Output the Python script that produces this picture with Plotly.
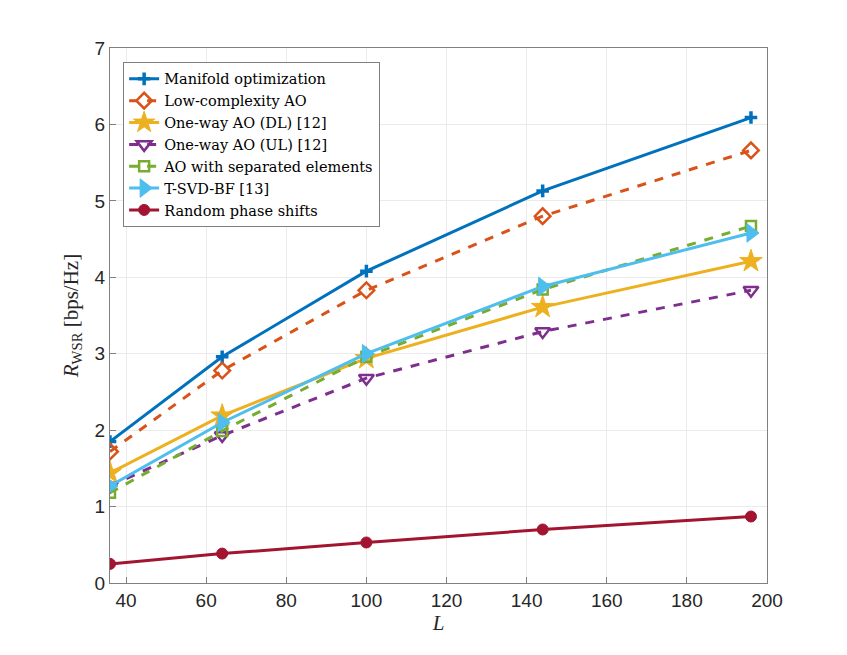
import plotly.graph_objects as go

L = [36, 64, 100, 144, 196]

manifold = [1.85, 2.96, 4.08, 5.13, 6.09]
low_complexity = [1.72, 2.78, 3.83, 4.80, 5.66]
oneway_dl = [1.44, 2.19, 2.94, 3.61, 4.21]
oneway_ul = [1.27, 1.93, 2.68, 3.29, 3.83]
separated = [1.18, 1.99, 2.96, 3.84, 4.67]
tsvd = [1.27, 2.10, 3.00, 3.88, 4.58]
random_phase = [0.25, 0.385, 0.53, 0.70, 0.87]

names = ['Manifold optimization', 'Low-complexity AO', 'One-way AO (DL) [12]',
         'One-way AO (UL) [12]', 'AO with separated elements', 'T-SVD-BF [13]',
         'Random phase shifts']

fig = go.Figure()

series = [
    (manifold, '#0072BD', 'solid', 'cross-thin', 9, 3.5),
    (low_complexity, '#D95319', 'dash', 'diamond-open', 12, 2.5),
    (oneway_dl, '#EDB120', 'solid', 'star', 17, 1),
    (oneway_ul, '#7E2F8E', 'dash', 'triangle-down-open', 13, 2.5),
    (separated, '#77AC30', 'dash', 'square-open', 10, 2.5),
    (tsvd, '#4DBEEE', 'solid', 'triangle-right', 16, 1),
    (random_phase, '#A2142F', 'solid', 'circle', 11, 1),
]

for (y, col, dash, sym, size, lw), nm in zip(series, names):
    fig.add_trace(go.Scatter(
        x=L, y=y, name=nm, mode='lines+markers',
        line=dict(color=col, width=3, dash=dash),
        marker=dict(symbol=sym, size=size, color=col,
                    line=dict(color=col, width=lw)),
    ))

axis_common = dict(
    showline=True, linecolor='#808080', linewidth=1, mirror=True,
    ticks='inside', ticklen=6, tickcolor='#808080',
    showgrid=True, gridcolor='#ebebeb', gridwidth=1,
    zeroline=False,
    tickfont=dict(family='Liberation Sans, Arial', size=19, color='#262626'),
)

fig.update_xaxes(range=[36, 200], tickvals=[40, 60, 80, 100, 120, 140, 160, 180, 200],
                 title=dict(text='<i>L</i>', font=dict(family='Liberation Serif', size=21, color='#262626'),
                            standoff=4),
                 **axis_common)
fig.update_yaxes(range=[0, 7], dtick=1,
                 title=dict(text='<i>R</i><sub>WSR</sub> [bps/Hz]',
                            font=dict(family='Liberation Serif', size=21, color='#262626'),
                            standoff=10),
                 **axis_common)

fig.update_layout(
    width=847, height=655,
    margin=dict(l=102, r=88, t=40, b=80),
    plot_bgcolor='white', paper_bgcolor='white',
    legend=dict(x=0.02, y=0.974, xanchor='left', yanchor='top',
                bgcolor='white', bordercolor='#808080', borderwidth=1,
                font=dict(family='DejaVu Serif', size=14.5, color='black'),
                tracegroupgap=0, itemwidth=30),
    showlegend=True,
)

fig.write_html("out.html")
